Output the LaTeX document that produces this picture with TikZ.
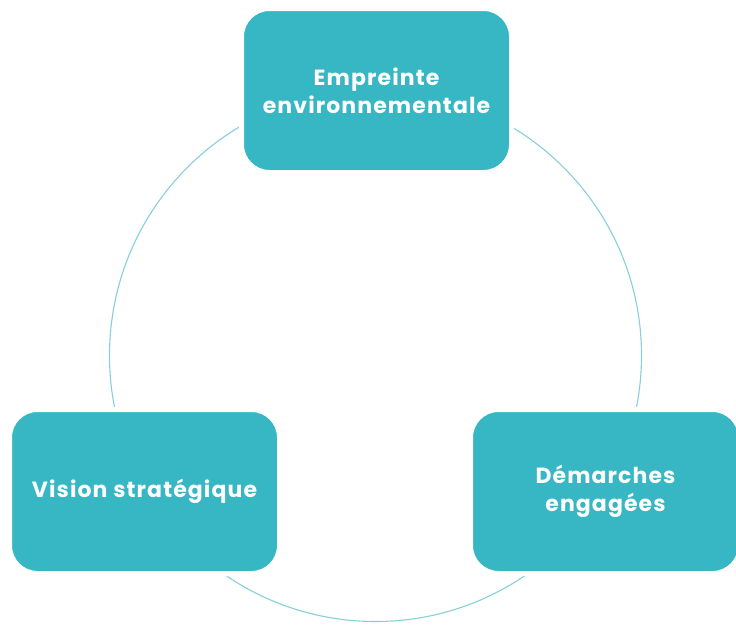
\documentclass[tikz,border=0pt]{standalone}
\usepackage{fontspec}
\setmainfont{Poppins}[LetterSpace=5]
\definecolor{boxfill}{HTML}{36B7C3}
\definecolor{ring}{HTML}{86D0D9}
\begin{document}
\begin{tikzpicture}[x=1pt,y=-1pt,
  topic/.style={fill=boxfill, draw=white, line width=5pt, rounded corners=28pt,
    minimum width=270pt, minimum height=164pt, inner sep=0pt,
    text=white, align=center, font=\fontsize{22}{28}\selectfont\bfseries}]
\useasboundingbox (0,0) rectangle (736,624);
\node[circle, draw=ring, line width=1.1pt, minimum size=532pt, inner sep=0pt] (ring) at (375.5,355.5) {};
\node[topic] (env) at (376.5,90.5) {Empreinte\\environnementale};
\node[topic] (vis) at (144.5,491.5) {Vision stratégique};
\node[topic] (dem) at (605.5,491.5) {Démarches\\engagées};
\end{tikzpicture}
\end{document}
